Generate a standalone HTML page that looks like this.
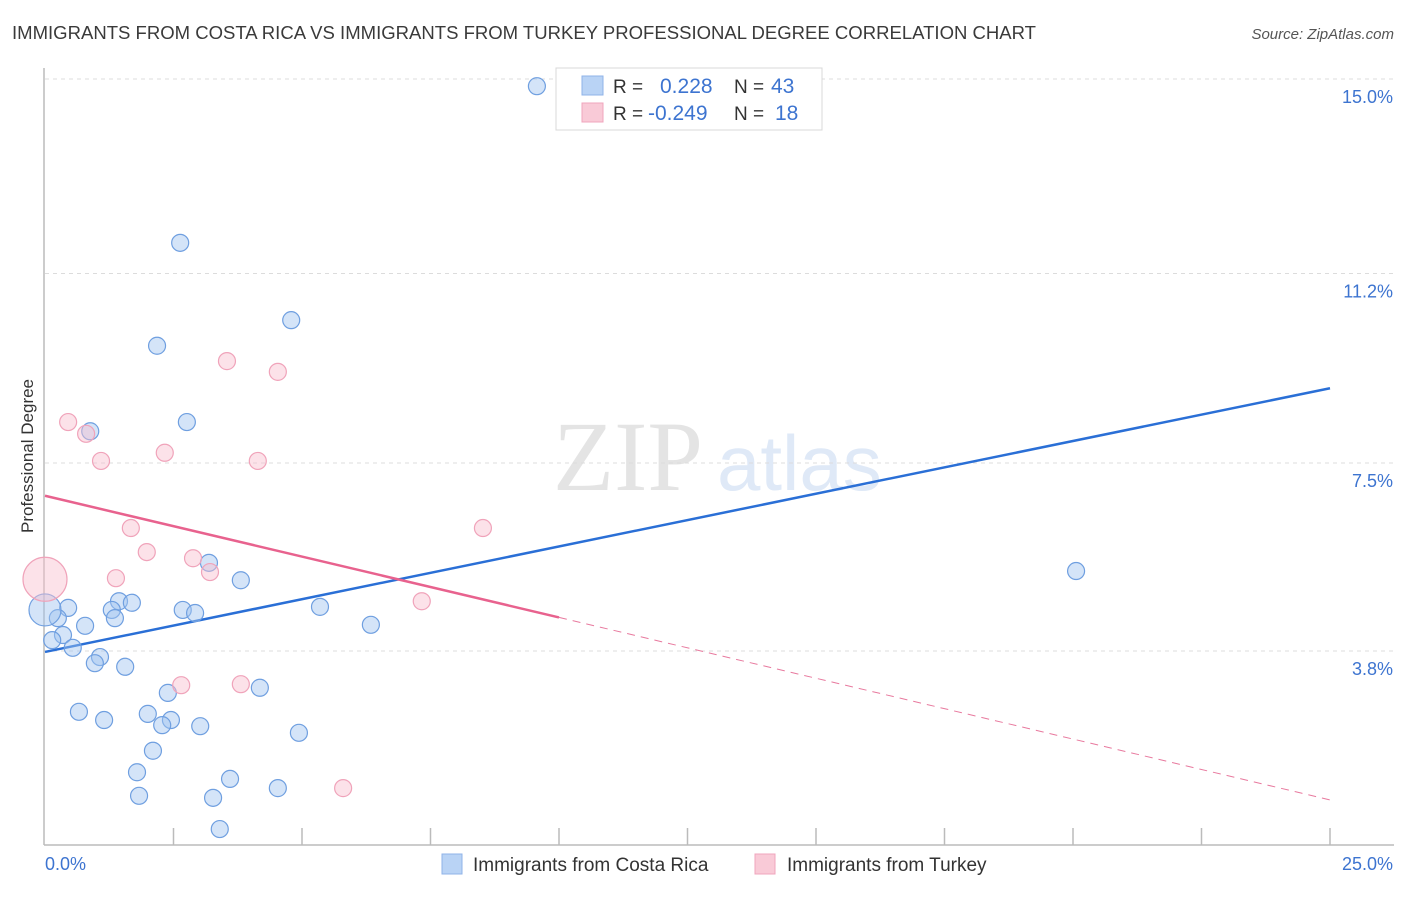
<!DOCTYPE html>
<html><head><meta charset="utf-8"><style>
html,body{margin:0;padding:0;background:#fff;}
body{width:1406px;height:892px;overflow:hidden;font-family:"Liberation Sans",sans-serif;}
</style></head><body>
<svg id="chart" width="1406" height="892" xmlns="http://www.w3.org/2000/svg" font-family="Liberation Sans, sans-serif">
<text x="12" y="39" font-size="18" fill="#3a3a3a" textLength="1024" lengthAdjust="spacingAndGlyphs">IMMIGRANTS FROM COSTA RICA VS IMMIGRANTS FROM TURKEY PROFESSIONAL DEGREE CORRELATION CHART</text>
<text x="1394" y="39" font-size="15" fill="#555" text-anchor="end" font-style="italic">Source: ZipAtlas.com</text>
<text transform="translate(33,456) rotate(-90)" font-size="17" fill="#333" text-anchor="middle">Professional Degree</text>
<g>
<text x="553" y="490" font-family="Liberation Serif, serif" font-size="100" fill="#e4e4e4">ZIP</text>
<text x="717" y="490" font-size="78" fill="#dfe9f7">atlas</text>
</g>
<g id="grid"></g>
<g id="axes"></g>
<g id="trend"></g>
<g id="points"></g>
<g>
<rect x="556" y="68" width="266" height="62" fill="#fff" stroke="#d8d8d8"/>
<rect x="582" y="76" width="21" height="19" fill="#b9d3f5" stroke="#8fb3e8"/>
<rect x="582" y="103" width="21" height="19" fill="#f9cad7" stroke="#f0a5bc"/>
<text x="613" y="93" font-size="19" fill="#333">R =</text>
<text x="660" y="93" font-size="21" fill="#3d74d0">0.228</text>
<text x="734" y="93" font-size="19" fill="#333">N =</text>
<text x="771" y="93" font-size="21" fill="#3d74d0">43</text>
<text x="613" y="120" font-size="19" fill="#333">R =</text>
<text x="648" y="120" font-size="21" fill="#3d74d0">-0.249</text>
<text x="734" y="120" font-size="19" fill="#333">N =</text>
<text x="775" y="120" font-size="21" fill="#3d74d0">18</text>
</g>
<g>
<rect x="442" y="854" width="20" height="20" fill="#b9d3f5" stroke="#8fb3e8"/>
<text x="473" y="871" font-size="19" fill="#333">Immigrants from Costa Rica</text>
<rect x="755" y="854" width="20" height="20" fill="#f9cad7" stroke="#f0a5bc"/>
<text x="787" y="871" font-size="19" fill="#333">Immigrants from Turkey</text>
</g>
</svg>
<script>
const blueX=[9.57,2.63,4.79,2.18,2.76,0.88,3.19,3.81,1.44,1.69,1.30,0.45,2.68,2.92,1.36,0.25,5.35,0.78,6.34,0.35,0.14,0.54,1.07,0.97,1.56,4.18,2.39,0.66,2.00,1.15,2.45,2.28,3.02,4.94,2.10,1.79,3.60,4.53,1.83,3.27,3.40,20.06,0.0];
const blueY=[14.86,11.80,10.29,9.79,8.30,8.12,5.55,5.21,4.80,4.77,4.63,4.67,4.63,4.57,4.47,4.47,4.69,4.32,4.34,4.14,4.04,3.89,3.71,3.59,3.52,3.11,3.01,2.64,2.60,2.48,2.48,2.38,2.36,2.23,1.88,1.46,1.33,1.15,1.00,0.96,0.35,5.39,4.63];
const blueR=[8.5,8.5,8.5,8.5,8.5,8.5,8.5,8.5,8.5,8.5,8.5,8.5,8.5,8.5,8.5,8.5,8.5,8.5,8.5,8.5,8.5,8.5,8.5,8.5,8.5,8.5,8.5,8.5,8.5,8.5,8.5,8.5,8.5,8.5,8.5,8.5,8.5,8.5,8.5,8.5,8.5,8.5,16];
const pinkX=[0,0.45,0.80,1.09,2.33,3.54,4.53,4.14,1.67,1.98,2.88,3.21,1.38,8.52,7.33,2.65,3.81,5.80];
const pinkY=[5.23,8.30,8.07,7.54,7.70,9.49,9.28,7.54,6.23,5.76,5.64,5.37,5.25,6.23,4.80,3.16,3.18,1.15];
const pinkR=[22,8.5,8.5,8.5,8.5,8.5,8.5,8.5,8.5,8.5,8.5,8.5,8.5,8.5,8.5,8.5,8.5,8.5];
const yTicks=[3.8,7.5,11.2,15.0];
const yTickLabels=["3.8%","7.5%","11.2%","15.0%"];
const xTicks=[0,2.5,5,7.5,10,12.5,15,17.5,20,22.5,25];
const blueTrend=[3.81,8.96];
const pinkTrend=[6.86,0.92];
const pinkSolidEnd=10;

const NS="http://www.w3.org/2000/svg";
const X0=45,X1=1330,Y0=847;
function sx(v){return X0+(v/25)*(X1-X0);}
function sy(v){return Y0-v*51.2;}
function mk(tag,attrs,parent){const e=document.createElementNS(NS,tag);for(const k in attrs)e.setAttribute(k,attrs[k]);parent.appendChild(e);return e;}

const grid=document.getElementById('grid');
yTicks.forEach((t,i)=>{
  const ly=t===15?79:sy(t)+(t===3.8?-1.5:0);
  const l=mk('line',{x1:X0,x2:1394,y1:ly,y2:ly,stroke:'#dcdcdc','stroke-dasharray':'4,4'},grid);
  
  
  const tx=mk('text',{x:1393,y:ly+24,'font-size':18,fill:'#3d74d0','text-anchor':'end'},grid);
  tx.textContent=yTickLabels[i];
  
  
});
const axes=document.getElementById('axes');
let a=mk('line',{x1:44,x2:44,y1:68,y2:845,stroke:'#bbb','stroke-width':1.5},axes);


a=mk('line',{x1:44,x2:1394,y1:845,y2:845,stroke:'#bbb','stroke-width':1.5},axes);


xTicks.forEach(t=>{
  if(t===0)return;
  const tk=mk('line',{x1:sx(t),x2:sx(t),y1:828,y2:845,stroke:'#bbb','stroke-width':1.5},axes);
  
  
});
let xl=mk('text',{x:45,y:870,'font-size':18,fill:'#3d74d0'},axes);xl.textContent='0.0%';


xl=mk('text',{x:1393,y:870,'font-size':18,fill:'#3d74d0','text-anchor':'end'},axes);xl.textContent='25.0%';



const pts=document.getElementById('points');
blueX.forEach((x,i)=>{
  const c=mk('circle',{cx:sx(x),cy:sy(blueY[i]),r:blueR[i],fill:'rgba(160,196,240,0.45)',stroke:'#6f9fe0','stroke-width':1.2},pts);
  
  
});
pinkX.forEach((x,i)=>{
  const c=mk('circle',{cx:sx(x),cy:sy(pinkY[i]),r:pinkR[i],fill:'rgba(248,190,206,0.45)',stroke:'#f0a3ba','stroke-width':1.2},pts);
  
  
});

const tr=document.getElementById('trend');
let b=mk('line',{x1:sx(0),y1:sy(blueTrend[0]),x2:sx(25),y2:sy(blueTrend[1]),stroke:'#2a6fd6','stroke-width':2.5},tr);


const pAt=v=>pinkTrend[0]+(pinkTrend[1]-pinkTrend[0])*v/25;
let p=mk('line',{x1:sx(0),y1:sy(pinkTrend[0]),x2:sx(pinkSolidEnd),y2:sy(pAt(pinkSolidEnd)),stroke:'#e8628e','stroke-width':2.5},tr);


p=mk('line',{x1:sx(pinkSolidEnd),y1:sy(pAt(pinkSolidEnd)),x2:sx(25),y2:sy(pinkTrend[1]),stroke:'#e8799e','stroke-width':1,'stroke-dasharray':'8,6'},tr);


</script>
</body></html>
